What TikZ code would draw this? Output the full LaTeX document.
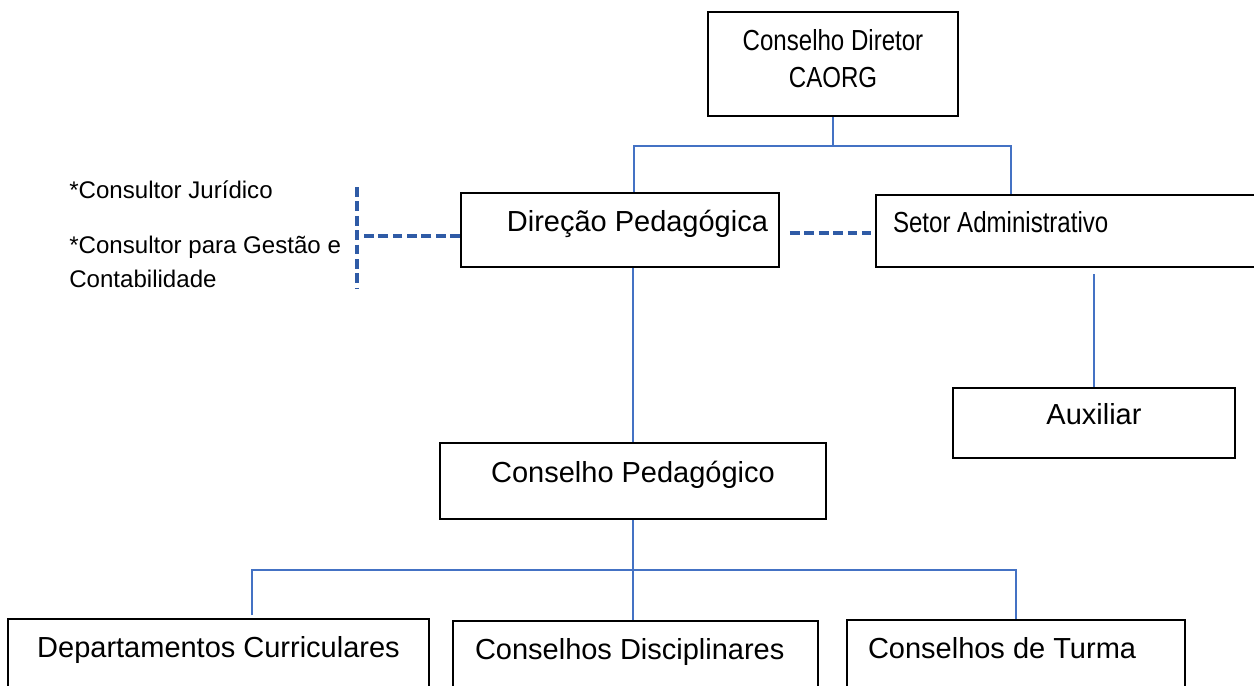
\documentclass[tikz,border=0pt]{standalone}
\usepackage{fontspec}
\setmainfont{Liberation Sans}
\newfontfamily\narrowsans[FakeStretch=0.83]{Liberation Sans}
\usetikzlibrary{calc}
\definecolor{linkblue}{RGB}{68,114,196}
\definecolor{dashblue}{RGB}{47,91,166}

\begin{document}
\begin{tikzpicture}[x=0.02cm, y=-0.02cm,
  boxbase/.style={draw, line width=1.1pt, rectangle, inner sep=0pt, font=\fontsize{16.5}{20}\selectfont},
  box/.style={boxbase, text height=0.8em, text depth=0.66em},
  link/.style={draw=linkblue, line width=0.8pt},
  dashlink/.style={draw=dashblue, line width=1.8pt, dash pattern=on 5.6pt off 2.6pt}]
  \clip (0,0) rectangle (1254,686);
  \fill[white] (0,0) rectangle (1254,686);

  % boxes
  \node[boxbase, minimum width=5.00cm, minimum height=2.08cm, align=center, text depth=0.22cm,
        font=\narrowsans\fontsize{16.5}{21.6}\selectfont] (diretor) at (833,64) {Conselho Diretor\\CAORG};
  \node[box, minimum width=6.36cm, minimum height=1.48cm, inner xsep=0.22cm, text width=5.92cm, align=flush right] (direcao) at (620,230) {Direção Pedagógica};
  \node[box, minimum width=7.88cm, minimum height=1.44cm, inner xsep=0.34cm, text width=7.2cm, align=flush left,
        font=\narrowsans\fontsize{16.5}{20}\selectfont] (setor) at (1073,231) {Setor Administrativo};
  \node[box, minimum width=5.64cm, minimum height=1.40cm] (auxiliar) at (1094,423) {Auxiliar};
  \node[box, minimum width=7.72cm, minimum height=1.52cm] (consped) at (633,481) {Conselho Pedagógico};
  \node[box, minimum width=8.42cm, minimum height=1.48cm] (dept) at (218.5,656) {Departamentos Curriculares};
  \node[box, minimum width=7.30cm, minimum height=1.48cm, inner xsep=0.44cm, text width=6.42cm, align=flush left] (disc) at (635.5,658) {Conselhos Disciplinares};
  \node[box, minimum width=6.76cm, minimum height=1.48cm, inner xsep=0.42cm, text width=5.92cm, align=flush left] (turma) at (1016,657) {Conselhos de Turma};

  % consultores
  \node[anchor=north west, inner sep=0pt, align=flush left, font=\fontsize{13.7}{19.3}\selectfont] (consult) at (69,180)
    {*Consultor Jurídico\\[12.5pt]*Consultor para Gestão e\\Contabilidade};
  \coordinate (brktop) at (357,187);
  \coordinate (brkbot) at (357,288);

  % ligacoes
  \draw[link] (diretor.south) -- ++(0,29);
  \draw[link] ($(direcao.north)+(14,0)$) |- ($(diretor.south)+(0,29)$) -| ($(setor.north)+(-62,0)$);
  \draw[link] (consped.north) -- (consped.north |- direcao.south);
  \draw[link] (auxiliar.north) -- ($(auxiliar.north |- setor.south)+(0,6)$);
  \draw[link] (consped.south) -- ++(0,50) coordinate (bus);
  \draw[link] ($(dept.north)+(33.5,-3)$) |- (bus) -| (turma.north);
  \draw[link] (bus) -- (bus |- disc.north);

  % linhas tracejadas
  \draw[dashlink] ($(direcao.east)+(10,3)$) -- ($(setor.west)+(-4,2)$);
  \draw[dashlink] ($(direcao.west)+(0,6)$) -- +(-99,0);
  \draw[dashlink] (brktop) -- (brkbot);
\end{tikzpicture}
\end{document}
